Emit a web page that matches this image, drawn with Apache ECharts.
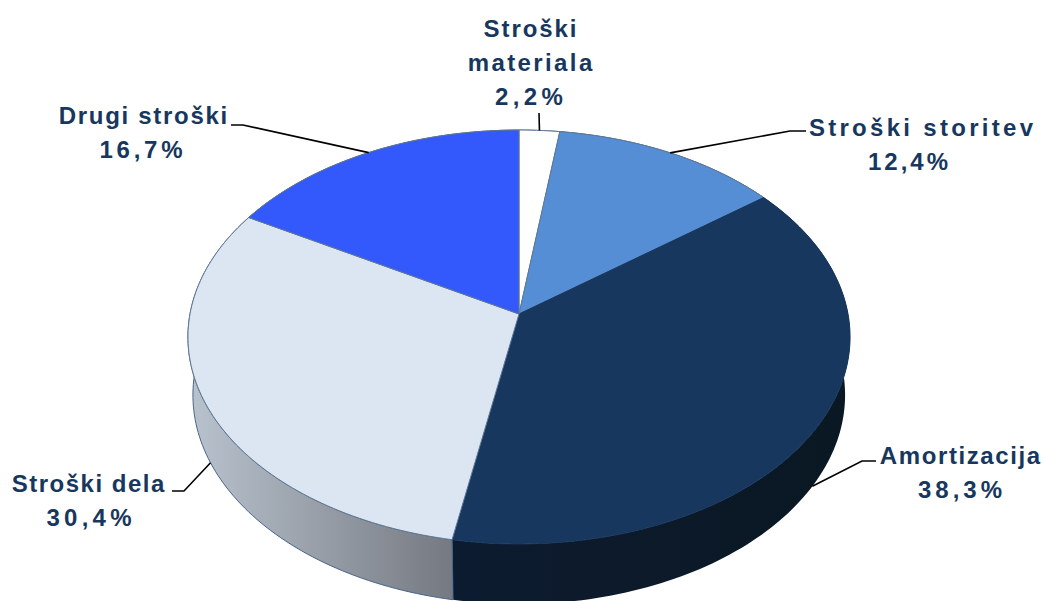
<!DOCTYPE html>
<html>
<head>
<meta charset="utf-8">
<style>
  html, body { margin: 0; padding: 0; background: #fff; }
  #main { width: 1043px; height: 601px; overflow: hidden; }
</style>
<script src="https://cdn.jsdelivr.net/npm/echarts@6/dist/echarts.min.js"></script>
</head>
<body>
<div id="main"></div>
<script>
// share of costs, clockwise from 12 o'clock
var names = [['Stroški', 'materiala'], ['Stroški storitev'], ['Amortizacija'], ['Stroški dela'], ['Drugi stroški']];
var shares = [2.2, 12.4, 38.3, 30.4, 16.7];

var faceColors = ['#ffffff', '#558ed5', '#17375e', '#dce6f2', '#3358fc'];
var wallLeft = ['#b0b0b0', '#2f5a90', '#0d1b30', '#b9c3ce', '#1c3190'];
var wallRight = ['#808080', '#2f5a90', '#0a1823', '#757981', '#1c3190'];

// label layout
var nameX = [530, 921, 960, 88, 143];
var valueX = [529, 908, 960, 89, 141];
var labelY = [28, 127, 455, 483, 115];
var nameTracking = [[1.9, 2.4], [3.3], [1.6], [1.5], [1.7]];
var valueTracking = [4.4, 3, 4, 4.25, 3.75];
var elbows = [[539, 113], [790, 131], [862, 461], [184, 491], [243, 125]];
var leaderEnds = [[539, 113], [806, 131], [876, 461], [172, 491], [231, 125]];

// pie is a flat disc seen in perspective: the disc centre sits above the ellipse centre
var cx = 519, cy = 314, A = 329, B = 204.4, K = 1 / 9;
var depth = 57.8, baseX = 0.985, baseY = 1.01;

function project(pct, base) {
  var t = pct / 100 * Math.PI * 2;
  var u = Math.sin(t), v = -Math.cos(t), w = 1 - K * v;
  return [
    cx + (base ? baseX : 1) * A * u / w,
    cy + (base ? baseY : 1) * B * v / w + (base ? depth : 0)
  ];
}

function arc(from, to, base) {
  var pts = [];
  var steps = Math.max(2, Math.ceil((to - from) * 3));
  for (var i = 0; i <= steps; i++) pts.push(project(from + (to - from) * i / steps, base));
  return pts;
}

function valueText(s) {
  return s.toFixed(1).replace('.', ',') + '%';
}

var rows = [], acc = 0;
shares.forEach(function (s) { rows.push([s, acc]); acc += s; });

function renderWall(params, api) {
  var i = params.dataIndex, s = api.value(0), from = api.value(1);
  var pts = arc(from, from + s, false).concat(arc(from, from + s, true).reverse());
  return {
    type: 'polygon',
    shape: { points: pts },
    style: {
      fill: new echarts.graphic.LinearGradient(0, 0, 1, 0, [
        { offset: 0, color: wallLeft[i] }, { offset: 1, color: wallRight[i] }
      ]),
      stroke: i === 2 ? 'transparent' : '#48648a',
      lineWidth: 1
    }
  };
}

function renderFace(params, api) {
  var i = params.dataIndex, s = api.value(0), from = api.value(1);
  return {
    type: 'polygon',
    shape: { points: [[cx, cy]].concat(arc(from, from + s, false)) },
    style: { fill: faceColors[i], stroke: i === 2 ? '#17375e' : '#5f7896', lineWidth: 1 }
  };
}

function textLine(str, x, y, tracking) {
  return {
    type: 'text',
    style: {
      text: str,
      x: x + tracking / 2, y: y,
      align: 'center', verticalAlign: 'middle',
      font: 'bold 24px "Liberation Sans", Arial, sans-serif',
      fill: '#17375e'
    }
  };
}

function renderLabel(params, api) {
  var i = params.dataIndex, s = api.value(0), mid = api.value(1) + s / 2;
  var onWall = mid > 25 && mid < 75;
  var children = [{
    type: 'polyline',
    shape: { points: [project(mid, onWall), elbows[i], leaderEnds[i]] },
    style: { fill: 'none', stroke: '#000', lineWidth: 1.6 }
  }];
  names[i].forEach(function (line, n) {
    children.push(textLine(line, nameX[i], labelY[i] + n * 34, nameTracking[i][n]));
  });
  children.push(textLine(valueText(s), valueX[i], labelY[i] + names[i].length * 34, valueTracking[i]));
  return { type: 'group', children: children };
}

var chart = echarts.init(document.getElementById('main'), null, { renderer: 'svg' });
chart.setOption({
  animation: false,
  backgroundColor: '#fff',
  series: [
    { type: 'custom', coordinateSystem: 'none', data: rows, renderItem: renderWall, silent: true, z: 1 },
    { type: 'custom', coordinateSystem: 'none', data: rows, renderItem: renderFace, silent: true, z: 2 },
    { type: 'custom', coordinateSystem: 'none', data: rows, renderItem: renderLabel, silent: true, z: 3 }
  ]
});

// the source text is tracked out, each line by its own amount
var tracking = {};
names.forEach(function (lines, i) {
  lines.forEach(function (line, n) { tracking[line] = nameTracking[i][n]; });
  tracking[valueText(shares[i])] = valueTracking[i];
});
document.querySelectorAll('#main text').forEach(function (t) {
  t.style.letterSpacing = tracking[t.textContent] + 'px';
});
</script>
</body>
</html>
